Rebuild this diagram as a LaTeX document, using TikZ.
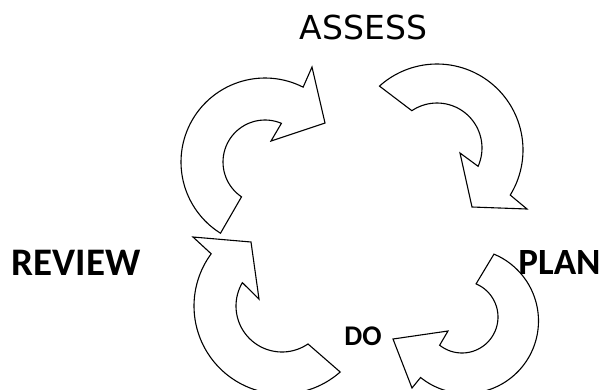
\documentclass[tikz,border=0pt]{standalone}
\usepackage{fontspec}
\newfontfamily\labfont{DejaVu Sans}
\newfontfamily\boldlab{Carlito}[BoldFont={* Bold}]
\tikzset{
  blockarrow/.style={draw=black, fill=white, line width=1.1pt, line join=miter},
  lab/.style={inner sep=0pt, anchor=center, text=black},
}
\begin{document}
\begin{tikzpicture}[x=1pt,y=-1pt]
\useasboundingbox (0,0) rectangle (603,389);
\fill[white] (0,0) rectangle (603,389);
\begin{scope}
\clip (0,0) rectangle (603,389);
% arrow 1 : REVIEW -> ASSESS
\draw[blockarrow]
  plot[smooth, domain=122:297, samples=40, variable=\t] ({265+84*cos(\t)},{162+84*sin(\t)})
  -- (312,67) -- (325,123) -- (271,141)
  -- plot[smooth, domain=293:124, samples=40, variable=\t] ({265+42*cos(\t)},{162+42*sin(\t)})
  -- cycle;
% arrow 2 : ASSESS -> PLAN
\draw[blockarrow]
  plot[smooth, domain=-132:31.6, samples=40, variable=\t] ({437+86*cos(\t)},{150+86*sin(\t)})
  -- (527,209) -- (472,207) -- (460,153)
  -- plot[smooth, domain=24:-124, samples=40, variable=\t] ({437+45*cos(\t)},{148+45*sin(\t)})
  -- cycle;
% arrow 3 : DO -> REVIEW
\draw[blockarrow]
  plot[smooth, domain=48.6:216.4, samples=40, variable=\t] ({282+88*cos(\t)},{306+88*sin(\t)})
  -- (193,237) -- (251,242) -- (259,299)
  -- plot[smooth, domain=210.5:55.6, samples=40, variable=\t] ({282+46*cos(\t)},{306+46*sin(\t)})
  -- cycle;
% arrow 4 : PLAN -> DO
\draw[blockarrow]
  plot[smooth, domain=-67.3:128.8, samples=40, variable=\t] ({466+72.5*cos(\t)},{321+72.5*sin(\t)})
  -- (412,388) -- (393,339) -- (448,331)
  -- plot[smooth, domain=128.4:-67, samples=40, variable=\t] ({462+36*cos(\t)},{317+36*sin(\t)})
  -- cycle;
\end{scope}
\node[lab, font=\labfont\fontsize{33}{33}\selectfont] (assess) at (363.5,27) {ASSESS};
\node[lab, font=\boldlab\bfseries\fontsize{39}{39}\selectfont] (review) at (76,262.5) {REVIEW};
\node[lab, font=\boldlab\bfseries\fontsize{37}{37}\selectfont] (plan) at (559.5,262) {PLAN};
\node[lab, font=\boldlab\bfseries\fontsize{28.5}{28.5}\selectfont] (do) at (363,336) {DO};
\end{tikzpicture}
\end{document}
